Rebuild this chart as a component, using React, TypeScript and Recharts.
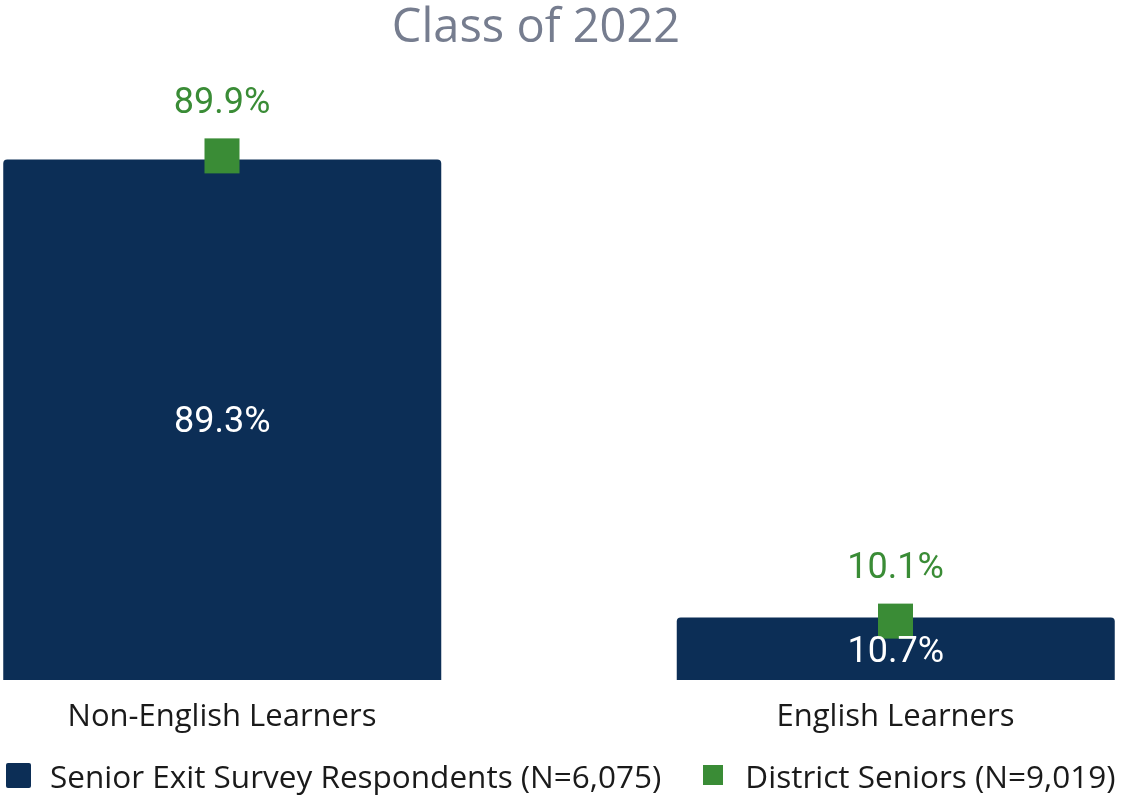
import React from "react";
import { ComposedChart, Bar, Scatter, XAxis, YAxis, LabelList, Legend } from "recharts";

const categories = ["Non-English Learners", "English Learners"];
const respondents = [89.3, 10.7];
const districtSeniors = [89.9, 10.1];
const seriesNames = ["Senior Exit Survey Respondents (N=6,075)", "District Seniors (N=9,019)"];
const title = "Class of 2022";

const NAVY = "#0c2e56";
const GREEN = "#3a8c36";

const data = categories.map((c, i) => ({ name: c, resp: respondents[i], dist: districtSeniors[i] }));

const SquareShape = (props: any) => {
  const { cx, cy } = props;
  const s = 35;
  return <rect x={cx - s / 2} y={cy - s / 2} width={s} height={s} fill={GREEN} />;
};

const GreenLabel = (props: any) => {
  const { x, y, value, width, height } = props;
  const cx = x + (width || 0) / 2;
  const cy = y + (height || 0) / 2;
  return (
    <text x={cx} y={cy - 55} textAnchor="middle" dominantBaseline="central" fill={GREEN} fontSize={36} fontFamily="Roboto">
      {value.toFixed(1)}%
    </text>
  );
};

const LegendContent = () => (
  <div style={{ display: "flex", alignItems: "center", height: 50, fontFamily: "Open Sans", fontSize: 31.5, color: "#1a1a1a", whiteSpace: "nowrap", paddingTop: 8, boxSizing: "border-box" }}>
    <div style={{ display: "flex", alignItems: "center", marginLeft: 3 }}>
      <div style={{ width: 25, height: 25, background: NAVY, borderRadius: 2, marginRight: 19 }} />
      <span>{seriesNames[0]}</span>
    </div>
    <div style={{ display: "flex", alignItems: "center", marginLeft: 42 }}>
      <div style={{ width: 20, height: 20, background: GREEN, marginRight: 22 }} />
      <span>{seriesNames[1]}</span>
    </div>
  </div>
);

export default function App() {
  return (
    <div style={{ position: "fixed", left: 0, top: 0, width: 1122, height: 796, background: "#fff" }}>
      <div style={{ position: "absolute", left: 0, top: 4, width: 1072, textAlign: "center", fontFamily: "Open Sans", fontSize: 47, color: "#767d8f", lineHeight: "40px" }}>
        {title}
      </div>
      <ComposedChart width={1122} height={796} data={data} margin={{ top: 97, right: 8, bottom: 0, left: 3 }}>
        <XAxis
          dataKey="name"
          axisLine={false}
          tickLine={false}
          height={66}
          padding={{ left: -117.75, right: -118.25 }}
          tick={{ fontFamily: "Open Sans", fontSize: 31, fill: "#1a1a1a" }}
          dy={16}
          interval={0}
        />
        <YAxis hide domain={[0, 100]} />
        <Legend verticalAlign="bottom" content={<LegendContent />} wrapperStyle={{ height: 50 }} />
        <Bar dataKey="resp" fill={NAVY} barSize={438} radius={[4, 4, 0, 0]} isAnimationActive={false}>
          <LabelList dataKey="resp" position="center" fill="#ffffff" fontSize={36} fontFamily="Roboto" formatter={(v: any) => `${Number(v).toFixed(1)}%`} />
        </Bar>
        <Scatter dataKey="dist" shape={<SquareShape />} isAnimationActive={false}>
          <LabelList dataKey="dist" content={<GreenLabel />} />
        </Scatter>
      </ComposedChart>
    </div>
  );
}
